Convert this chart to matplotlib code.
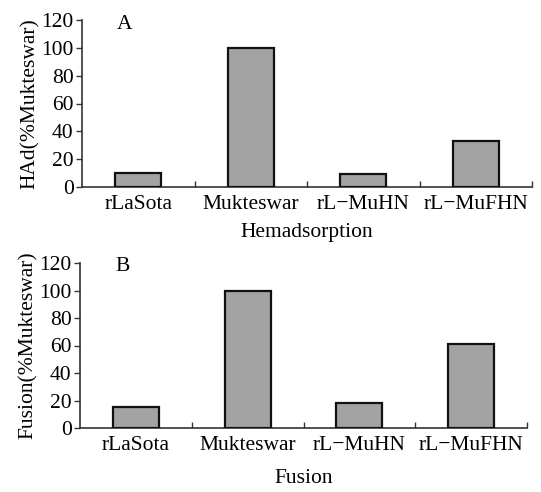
import matplotlib
matplotlib.use("Agg")
import matplotlib.pyplot as plt
import numpy as np

categories = ["rLaSota", "Mukteswar", "rL\u2212MuHN", "rL\u2212MuFHN"]
had_values = [10, 100, 9, 33]
fusion_values = [15, 100, 18, 61]
yticks = [0, 20, 40, 60, 80, 100, 120]

plt.rcParams['font.family'] = ['Liberation Serif', 'DejaVu Serif']

W, H = 541, 492
fig = plt.figure(figsize=(W / 100, H / 100), dpi=100)
FS = 15.5

def px_axes(l, r, t, b):
    return fig.add_axes([l / W, (H - b) / H, (r - l) / W, (b - t) / H])

def draw(ax, vals, ylabel, xlabel, letter, xlabelpad, letter_y):
    x = np.arange(len(categories))
    ax.bar(x, vals, width=0.41, color="#a3a3a3", edgecolor="#111111", linewidth=1.6, zorder=3)
    ax.set_xlim(-0.5, len(categories) - 0.5)
    ax.set_ylim(0, 120)
    ax.set_yticks(yticks)
    ax.set_yticklabels([str(v) for v in yticks], fontsize=FS)
    ax.set_xticks(x + 0.5)
    ax.set_xticklabels([])
    ax.set_xticks(x, minor=True)
    ax.set_xticklabels(categories, minor=True, fontsize=FS)
    ax.tick_params(axis='x', which='major', direction='in', length=4, width=1, color="#333333")
    ax.tick_params(axis='x', which='minor', length=0, pad=6)
    ax.tick_params(axis='y', direction='out', length=4, width=1, color="#333333", pad=2)
    for s in ['top', 'right']:
        ax.spines[s].set_visible(False)
    for s in ['left', 'bottom']:
        ax.spines[s].set_color("#333333")
        ax.spines[s].set_linewidth(1.2)
    ax.set_ylabel(ylabel, fontsize=FS, labelpad=1)
    ax.set_xlabel(xlabel, fontsize=FS, labelpad=xlabelpad)
    ax.text(0.095, letter_y, letter, transform=ax.transAxes, fontsize=FS, va='center', ha='center')

axA = px_axes(82, 532, 20, 187)
draw(axA, had_values, "HAd(%Mukteswar)", "Hemadsorption", "A", 6, 0.976)

axB = px_axes(80, 527, 263, 428)
draw(axB, fusion_values, "Fusion(%Mukteswar)", "Fusion", "B", 10, 0.98)

fig.savefig("out.png", dpi=100, facecolor="white")
